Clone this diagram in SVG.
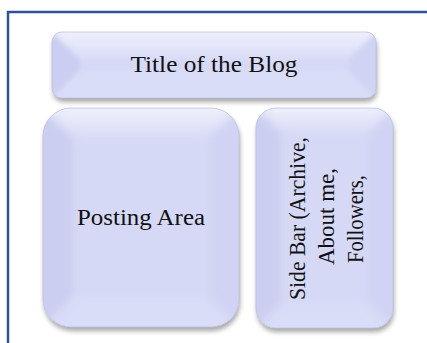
<svg xmlns="http://www.w3.org/2000/svg" width="427" height="343" viewBox="0 0 427 343">
<style>
.lbl{font-family:"Liberation Serif","Times New Roman",serif;font-size:24px;fill:#111;}
.top{fill:url(#gTop);}
.left{fill:#CBCEF0;}
.right{fill:#D0D3F3;}
.bot{fill:#DADDF7;}
.mid{fill:#D6D9F6;}
.edge{fill:none;stroke:#BFC2E2;stroke-width:0.8;}
</style>
<defs>
<linearGradient id="gTop" x1="0" y1="0" x2="0" y2="1">
<stop offset="0" stop-color="#F6F7FD"/>
<stop offset="1" stop-color="#D9DCF7"/>
</linearGradient>
<filter id="sh" x="-10%" y="-10%" width="125%" height="130%">
<feGaussianBlur in="SourceAlpha" stdDeviation="2.5"/>
<feOffset dx="1" dy="4" result="b"/>
<feComponentTransfer><feFuncA type="linear" slope="0.35"/></feComponentTransfer>
<feMerge><feMergeNode/><feMergeNode in="SourceGraphic"/></feMerge>
</filter>
<filter id="soft" x="-5%" y="-5%" width="110%" height="110%">
<feGaussianBlur stdDeviation="2.5"/>
</filter>
<filter id="soft2" x="-5%" y="-5%" width="110%" height="110%">
<feGaussianBlur stdDeviation="5"/>
</filter>
<clipPath id="c1"><rect x="52" y="32" width="324" height="66" rx="10"/></clipPath>
<clipPath id="c2"><rect x="43" y="108" width="196" height="219" rx="28"/></clipPath>
<clipPath id="c3"><rect x="256" y="108" width="137" height="220" rx="20"/></clipPath>
</defs>
<rect x="0" y="0" width="427" height="343" fill="#FFFFFF"/>
<rect id="frame" x="8" y="12" width="440" height="350" fill="none" stroke="#2E5395" stroke-width="2.5"/>

<g id="title">
<g filter="url(#sh)">
<rect x="52" y="32" width="324" height="66" rx="10" class="mid"/>
</g>
<g clip-path="url(#c1)">
<g filter="url(#soft)">
<polygon points="40,20 388,20 348,60 80,60" class="top"/>
<polygon points="40,20 80,60 80,70 40,110" class="left"/>
<polygon points="388,20 348,60 348,70 388,110" class="right"/>
<polygon points="40,110 80,70 348,70 388,110" class="bot"/>
</g>
</g>
<rect x="52" y="32" width="324" height="66" rx="10" class="edge"/>
<text class="lbl" x="214" y="72" text-anchor="middle" textLength="167" lengthAdjust="spacingAndGlyphs">Title of the Blog</text>
</g>

<g id="posting">
<g filter="url(#sh)">
<rect x="43" y="108" width="196" height="219" rx="28" class="mid"/>
</g>
<g clip-path="url(#c2)">
<g filter="url(#soft2)">
<polygon points="31,96 251,96 209,138 73,138" class="top"/>
<polygon points="31,96 73,138 73,297 31,339" class="left"/>
<polygon points="251,96 209,138 209,297 251,339" class="right"/>
<polygon points="31,339 73,297 209,297 251,339" class="bot"/>
</g>
</g>
<rect x="43" y="108" width="196" height="219" rx="28" class="edge"/>
<text class="lbl" x="141" y="225" text-anchor="middle" textLength="128" lengthAdjust="spacingAndGlyphs">Posting Area</text>
</g>

<g id="sidebar">
<g filter="url(#sh)">
<rect x="256" y="108" width="137" height="220" rx="20" class="mid"/>
</g>
<g clip-path="url(#c3)">
<g filter="url(#soft2)">
<polygon points="244,96 405,96 368,133 281,133" class="top"/>
<polygon points="244,96 281,133 281,303 244,340" class="left"/>
<polygon points="405,96 368,133 368,303 405,340" class="right"/>
<polygon points="244,340 281,303 368,303 405,340" class="bot"/>
</g>
</g>
<rect x="256" y="108" width="137" height="220" rx="20" class="edge"/>
<text class="lbl" transform="translate(305,218.5) rotate(-90)" x="0" y="0" text-anchor="middle" textLength="163" lengthAdjust="spacingAndGlyphs">Side Bar (Archive,</text>
<text class="lbl" transform="translate(334,216.5) rotate(-90)" x="0" y="0" text-anchor="middle" textLength="97" lengthAdjust="spacingAndGlyphs">About me,</text>
<text class="lbl" transform="translate(363,219) rotate(-90)" x="0" y="0" text-anchor="middle" textLength="88" lengthAdjust="spacingAndGlyphs">Followers,</text>
</g>
</svg>
